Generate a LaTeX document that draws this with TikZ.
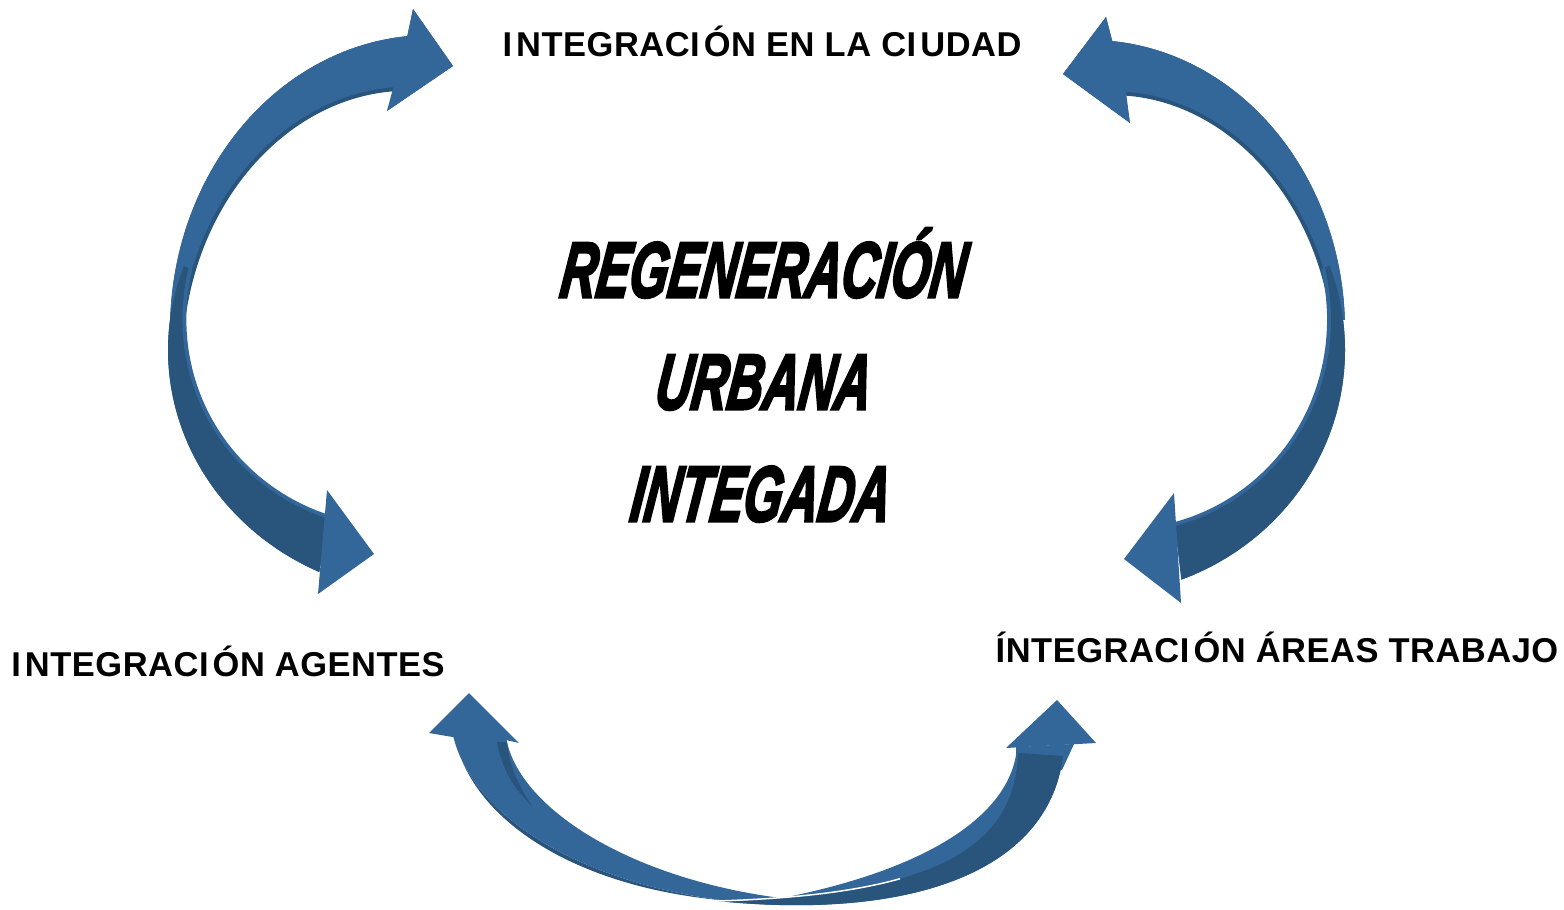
\documentclass[tikz,border=0pt]{standalone}
\usepackage{fontspec}
\setmainfont{Liberation Sans}
\newfontfamily\labfont{Liberation Sans}[LetterSpace=1.5]
\newfontfamily\impfont{Liberation Sans}[BoldItalicFeatures={FakeBold=4}]
\newcommand\Ik{I\kern0.12em}
\definecolor{arrL}{RGB}{52,103,153}
\definecolor{arrD}{RGB}{41,84,124}
\tikzset{
  lab/.style={anchor=base,inner sep=0pt,font=\labfont\bfseries\fontsize{9.8}{11}\selectfont},
  ttl/.style={anchor=base,inner sep=0pt,xslant=0.13,transform shape,font=\impfont\bfseries\itshape\fontsize{22.2}{26}\selectfont},
  lightarr/.style={fill=arrL},
  darkarr/.style={fill=arrD},
  pl/.style={smooth,samples=60,variable=\t},
}
\begin{document}
\begin{tikzpicture}[x=0.01cm,y=-0.01cm]
\useasboundingbox (0,0) rectangle (1564,909);
% ================= left upper arrow (centre 430,330) =================
\path[darkarr] plot[pl,domain=178:95] ({430+260*cos(\t)},{330-295*sin(\t)})
   -- (413,9) -- (453,66) -- (387,111)
   -- plot[pl,domain=100:178] ({430+(260-(15+40*(178-\t)/83))*cos(\t)},{330-(295-(15+40*(178-\t)/83))*sin(\t)}) -- cycle;
\path[lightarr] plot[pl,domain=178:95] ({430+260*cos(\t)},{330-295*sin(\t)})
   -- (413,9) -- (453,66) -- (387,111)
   -- plot[pl,domain=100:178] ({430+(264-(15+40*(178-\t)/83))*cos(\t)},{330-(299-(15+40*(178-\t)/83))*sin(\t)}) -- cycle;
% ================= left lower arrow (centre 430,350) =================
\path[lightarr] plot[pl,domain=160:245] ({430+262*cos(\t)},{350-245*sin(\t)})
   -- plot[pl,domain=241:160] ({430+(258-(5+47*(\t-160)/81))*cos(\t)},{350-(241-(5+47*(\t-160)/81))*sin(\t)}) -- cycle;
\path[darkarr] plot[pl,domain=160:245] ({430+262*cos(\t)},{350-245*sin(\t)})
   -- plot[pl,domain=241:160] ({430+(262-(5+47*(\t-160)/81))*cos(\t)},{350-(245-(5+47*(\t-160)/81))*sin(\t)}) -- cycle;
\path[lightarr] (327,490) -- (374,554) -- (318,594) -- cycle;
% ================= right upper arrow (centre 1090,330) =================
\path[darkarr] plot[pl,domain=2:85] ({1090+255*cos(\t)},{330-290*sin(\t)})
   -- (1106,17) -- (1063,74) -- (1130,123)
   -- plot[pl,domain=80:2] ({1090+(255-(14+38*(\t-2)/78))*cos(\t)},{330-(290-(14+38*(\t-2)/78))*sin(\t)}) -- cycle;
\path[lightarr] plot[pl,domain=2:85] ({1090+255*cos(\t)},{330-290*sin(\t)})
   -- (1106,17) -- (1063,74) -- (1130,123)
   -- plot[pl,domain=80:2] ({1090+(259-(14+38*(\t-2)/78))*cos(\t)},{330-(294-(14+38*(\t-2)/78))*sin(\t)}) -- cycle;
% ================= right lower arrow (centre 1090,350) =================
\path[lightarr] plot[pl,domain=20:-69] ({1090+255*cos(\t)},{350-246*sin(\t)})
   -- plot[pl,domain=-65:20] ({1090+(251-(5+47*(20-\t)/85))*cos(\t)},{350-(242-(5+47*(20-\t)/85))*sin(\t)}) -- cycle;
\path[darkarr] plot[pl,domain=20:-69] ({1090+255*cos(\t)},{350-246*sin(\t)})
   -- plot[pl,domain=-65:20] ({1090+(255-(5+47*(20-\t)/85))*cos(\t)},{350-(246-(5+47*(20-\t)/85))*sin(\t)}) -- cycle;
\path[lightarr] (1174,493) -- (1124,559) -- (1181,603) -- cycle;
% ================= bottom left arrow (centre 800,710) =================
\path[darkarr] plot[pl,domain=195:258] ({800+(350+4*sin((\t-195)/63*180))*cos(\t)},{710-(195+4*sin((\t-195)/63*180))*sin(\t)})
   -- plot[pl,domain=258:195] ({800+350*cos(\t)},{710-195*sin(\t)}) -- cycle;
\path[lightarr] plot[pl,domain=188:268] ({800+350*cos(\t)},{710-195*sin(\t)})
   -- plot[pl,domain=268:192] ({800+(350-(6+44*(268-\t)/76))*cos(\t)},{710-(195-(6+44*(268-\t)/76))*sin(\t)})
   -- (519,743) -- (469,693) -- (429,733) -- cycle;
\path[darkarr] (497,742) .. controls (502,770) and (515,790) .. (532,806) .. controls (518,785) and (509,765) .. (507,742) -- cycle;
% ================= bottom right arrow =================
\path[lightarr] (1016,747) -- (1074,744) -- (1062,770) -- (1016,760) -- cycle;
\path[lightarr] (787,897) .. controls (920,870) and (1005,820) .. (1016,755) -- (1063,756) .. controls (1048,875) and (905,920) .. (717,901) -- cycle;
\path[darkarr] (717,901) .. controls (910,895) and (1015,860) .. (1018,753) -- (1063,756) .. controls (1048,875) and (905,920) .. (717,901) -- cycle;
\begin{scope}
  \clip (700,870) rectangle (900,910);
  \draw[white,line width=0.015cm] (717,901) .. controls (910,895) and (1015,860) .. (1018,753);
\end{scope}
\path[lightarr] (1006,748) -- (1057,700) -- (1096,743) -- cycle;
% ================= texts =================
\node[lab] (top) at (762,56) {\Ik NTEGRAC\Ik ÓN EN LA C\Ik UDAD};
\node[lab] (left) at (228,676) {\Ik NTEGRAC\Ik ÓN AGENTES};
\node[lab] (right) at (1277,662) {ÍNTEGRAC\Ik ÓN ÁREAS TRABAJO};
\node[ttl] (t1) at (761,297) {\scalebox{0.635}[1]{REGENERACIÓN}};
\node[ttl] (t2) at (761,409) {\scalebox{0.635}[1]{URBANA}};
\node[ttl] (t3) at (758,521) {\scalebox{0.635}[1]{INTEGADA}};
\end{tikzpicture}
\end{document}
